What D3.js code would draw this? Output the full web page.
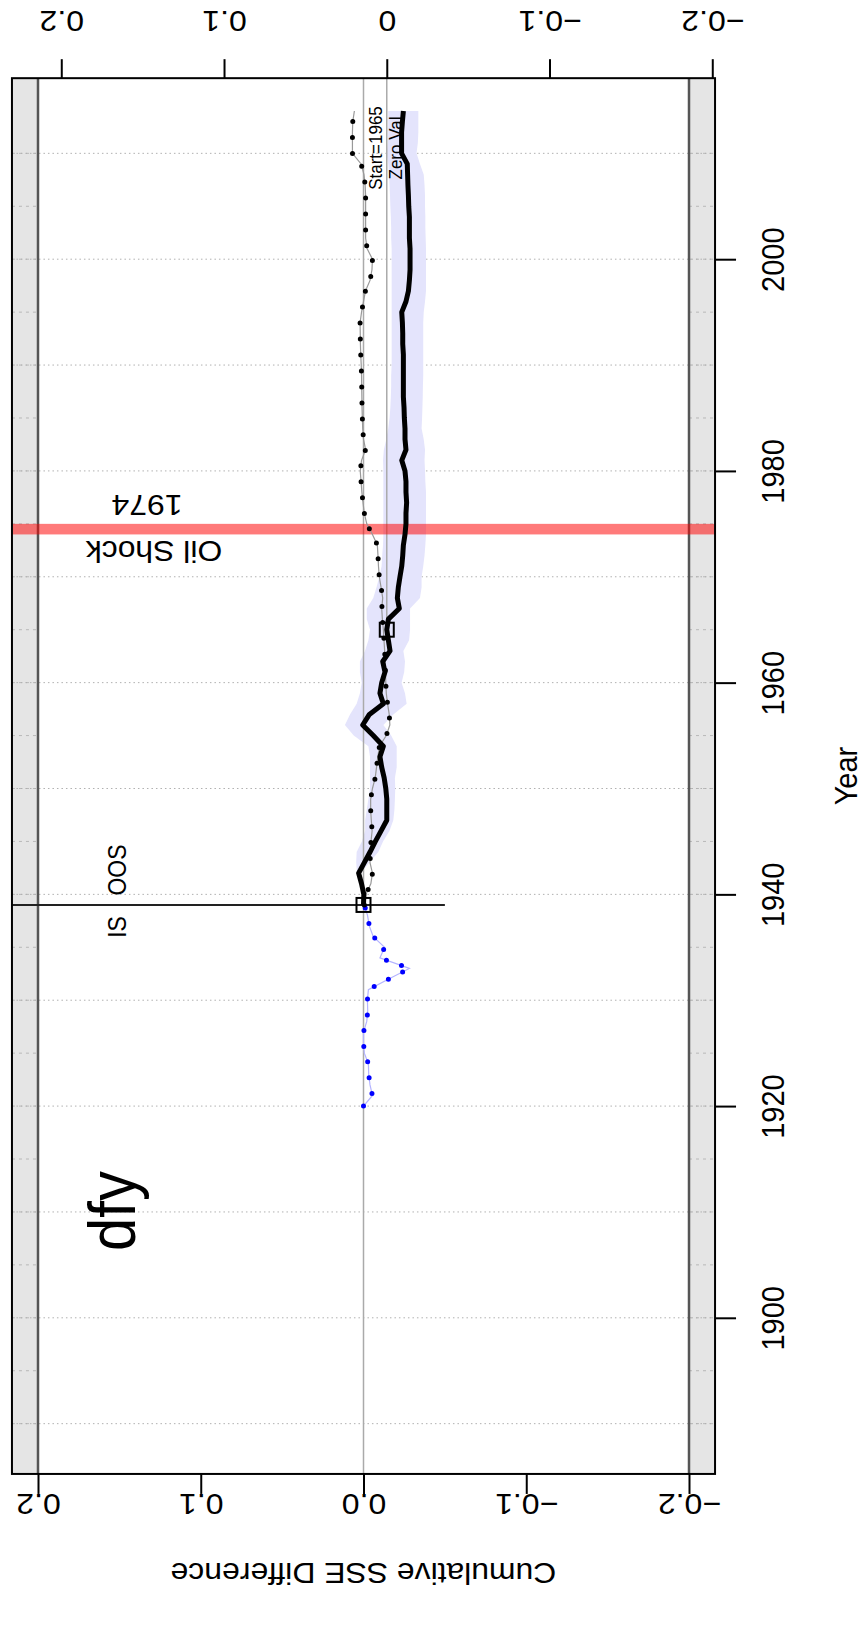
<!DOCTYPE html>
<html>
<head>
<meta charset="utf-8">
<script src="https://cdn.jsdelivr.net/npm/d3@7"></script>
<style>
  body { margin: 0; background: #fff; }
  svg text { font-family: "Liberation Sans", Arial, Helvetica, sans-serif; fill: #000; }
</style>
</head>
<body>
<div id="chart"></div>
<script>
"use strict";

// page / plot frame (the R plot is turned on its side: years run up the page)
var width = 868;
var height = 1634;
var stretch = 1.1;   // glyphs in the reference are a bit wider than tall

// axis ticks and labels
var yearTicks = [1900, 1920, 1940, 1960, 1980, 2000];
var gridYears = [1890, 1900, 1910, 1920, 1930, 1940, 1950, 1960, 1970, 1980, 1990, 2000, 2010];
var stripYears = [1890, 1895, 1900, 1905, 1910, 1915, 1920, 1925, 1930, 1935, 1940, 1945, 1950, 1955, 1960, 1965, 1970, 1975, 1980, 1985, 1990, 1995, 2000, 2005, 2010];
var valueTicks = [0.2, 0.1, 0, -0.1, -0.2];
var bottomLabels = ["0.2", "0.1", "0.0", "\u22120.1", "\u22120.2"];
var topLabels = ["0.2", "0.1", "0", "\u22120.1", "\u22120.2"];

// in-sample stretch (blue dots), 1920-1939
var isStart = 1920;
var isValues = [0.000, -0.0055, -0.0040, -0.0032, -0.0030, -0.0005, 0.000, 0.000, -0.0020, -0.0026,
                -0.0024, -0.0030, -0.0155, -0.0282, -0.0101, -0.0130, -0.0060, -0.0036, -0.0025, -0.0005];

// out-of-sample period, 1939-2014
var oosStart = 1939;
// dotted black series
var oosDotted = [-0.0005, -0.0015, -0.0045, -0.0055, -0.0040, -0.0043, -0.0046, -0.0053, -0.0048, -0.0044,
                 -0.0044, -0.0055, -0.0072, -0.0080, -0.0088, -0.0098, -0.0140, -0.0162, -0.0158, -0.0148,
                 -0.0140, -0.0137, -0.0135, -0.0133, -0.0130, -0.0126, -0.0122, -0.0116, -0.0112, -0.0118,
                 -0.0108, -0.0097, -0.0092, -0.0089, -0.0085, -0.0055, -0.0020, -0.0005, 0.0003, 0.0010,
                 0.0015, 0.0020, 0.0012, -0.0013, 0.0000, 0.0005, 0.0007, 0.0009, 0.0010, 0.0011,
                 0.0012, 0.0014, 0.0017, 0.0019, 0.0020, 0.0021, 0.0012, 0.0000, -0.0012, -0.0040,
                 -0.0052, -0.0055, -0.0022, -0.0013, -0.0013, -0.0013, -0.0013, -0.0013, -0.0010, -0.0003,
                 0.0015, 0.0068, 0.0068, 0.0068, 0.0066, 0.0056];
// thick black cumulative SSE difference
var oosLine = [0.0000, -0.0002, 0.0012, 0.0030, -0.0005, -0.0040, -0.0073, -0.0108, -0.0143, -0.0143,
               -0.0143, -0.0137, -0.0127, -0.0112, -0.0101, -0.0122, -0.0060, 0.0005, -0.0036, -0.0122,
               -0.0101, -0.0112, -0.0132, -0.0118, -0.0163, -0.0153, -0.0143, -0.0153, -0.0220, -0.0208,
               -0.0214, -0.0224, -0.0235, -0.0241, -0.0245, -0.0255, -0.0261, -0.0261, -0.0265, -0.0261,
               -0.0261, -0.0255, -0.0235, -0.0261, -0.0255, -0.0255, -0.0251, -0.0249, -0.0245, -0.0245,
               -0.0245, -0.0245, -0.0245, -0.0241, -0.0241, -0.0239, -0.0235, -0.0261, -0.0276, -0.0282,
               -0.0286, -0.0286, -0.0286, -0.0282, -0.0282, -0.0282, -0.0278, -0.0276, -0.0273, -0.0271,
               -0.0269, -0.0234, -0.0234, -0.0234, -0.0239, -0.0245];

// shaded band round the thick line, 1942-2014
var bandStart = 1942;
var bandHi = [0.0040, 0.0045, 0.0042, 0.0010, -0.0010, -0.0010, -0.0020, -0.0030, -0.0040, -0.0040,
              -0.0040, -0.0040, -0.0030, 0.0060, 0.0114, 0.0083, 0.0042, 0.0022, 0.0011, 0.0022,
              0.0022, -0.0009, -0.0030, -0.0040, -0.0020, -0.0020, -0.0060, -0.0080, -0.0097, -0.0111,
              -0.0115, -0.0120, -0.0122, -0.0122, -0.0122, -0.0122, -0.0122, -0.0122, -0.0122, -0.0120,
              -0.0125, -0.0140, -0.0152, -0.0160, -0.0165, -0.0168, -0.0170, -0.0170, -0.0173, -0.0173,
              -0.0173, -0.0173, -0.0173, -0.0173, -0.0173, -0.0173, -0.0173, -0.0173, -0.0173, -0.0173,
              -0.0170, -0.0170, -0.0168, -0.0165, -0.0163, -0.0160, -0.0157, -0.0152, -0.0142, -0.0150,
              -0.0152, -0.0152, -0.0152];
var bandLo = [0.0015, -0.0035, -0.0091, -0.0120, -0.0160, -0.0183, -0.0190, -0.0193, -0.0195, -0.0193,
              -0.0204, -0.0204, -0.0204, -0.0170, -0.0122, -0.0183, -0.0265, -0.0255, -0.0234, -0.0250,
              -0.0255, -0.0245, -0.0280, -0.0286, -0.0286, -0.0286, -0.0347, -0.0357, -0.0357, -0.0367,
              -0.0375, -0.0380, -0.0384, -0.0384, -0.0384, -0.0384, -0.0384, -0.0380, -0.0378, -0.0375,
              -0.0378, -0.0370, -0.0357, -0.0360, -0.0362, -0.0364, -0.0365, -0.0367, -0.0367, -0.0367,
              -0.0367, -0.0367, -0.0367, -0.0370, -0.0378, -0.0384, -0.0384, -0.0384, -0.0384, -0.0384,
              -0.0382, -0.0380, -0.0380, -0.0378, -0.0378, -0.0375, -0.0370, -0.0347, -0.0326, -0.0334,
              -0.0337, -0.0337, -0.0337];

var zeroYear = 1965;
var shockYear = 1974;
var splitCutoff = -0.05;

// scales: years go up the page, values go leftwards
var yScale = d3.scaleLinear().domain([1900, 2000]).range([1317.8, 259.2]);
var xScale = d3.scaleLinear().domain([0.2, -0.2]).range([38, 689]);
var zeroVal = oosLine[zeroYear - oosStart];
var xTop = d3.scaleLinear().domain([0.2, -0.2])
             .range([xScale(0.2 + zeroVal), xScale(-0.2 + zeroVal)]);

var boxLeft = xScale(0.216), boxRight = xScale(-0.216);
var boxTop = yScale(2017.1), boxBottom = yScale(1885.25);

var svg = d3.select("#chart").append("svg")
            .attr("width", width)
            .attr("height", height);

function place(x, y, angle) {
   return "translate(" + x + "," + y + ") scale(" + stretch + ",1) rotate(" + angle + ")";
}

// grey strips outside +-0.2
svg.append("rect")
   .attr("x", boxLeft).attr("y", boxTop)
   .attr("width", xScale(0.2) - boxLeft).attr("height", boxBottom - boxTop)
   .attr("fill", "#e5e5e5");
svg.append("rect")
   .attr("x", xScale(-0.2)).attr("y", boxTop)
   .attr("width", boxRight - xScale(-0.2)).attr("height", boxBottom - boxTop)
   .attr("fill", "#e5e5e5");

// dashes inside the strips
[[boxLeft, xScale(0.2)], [xScale(-0.2), boxRight]].forEach(function(s) {
   svg.selectAll(null)
      .data(stripYears)
      .enter()
      .append("line")
      .attr("x1", s[0]).attr("x2", s[1])
      .attr("y1", function(d) { return yScale(d); })
      .attr("y2", function(d) { return yScale(d); })
      .attr("stroke", "#b8b8b8")
      .attr("stroke-width", 1)
      .attr("stroke-dasharray", "3,4");
});

// dotted decade grid
svg.selectAll(".grid")
   .data(gridYears)
   .enter()
   .append("line")
   .attr("class", "grid")
   .attr("x1", boxLeft).attr("x2", boxRight)
   .attr("y1", function(d) { return yScale(d); })
   .attr("y2", function(d) { return yScale(d); })
   .attr("stroke", "#b0b0b0")
   .attr("stroke-width", 1)
   .attr("stroke-dasharray", "1.5,3");

// +-0.2 boundaries
[0.2, -0.2].forEach(function(v) {
   svg.append("line")
      .attr("x1", xScale(v)).attr("x2", xScale(v))
      .attr("y1", boxTop).attr("y2", boxBottom)
      .attr("stroke", "#555").attr("stroke-width", 2.5);
});

// confidence band
var bandArea = d3.area()
   .y(function(d, i) { return yScale(bandStart + i); })
   .x0(function(d, i) { return xScale(bandHi[i]); })
   .x1(function(d, i) { return xScale(bandLo[i]); });
svg.append("path")
   .datum(bandHi)
   .attr("d", bandArea)
   .attr("fill", "#e4e4fc");

// zero line and "zero value" line from 1965 on
svg.append("line")
   .attr("x1", xScale(0)).attr("x2", xScale(0))
   .attr("y1", boxTop).attr("y2", boxBottom)
   .attr("stroke", "#aaa").attr("stroke-width", 1.5);
svg.append("line")
   .attr("x1", xScale(zeroVal)).attr("x2", xScale(zeroVal))
   .attr("y1", boxTop).attr("y2", yScale(zeroYear))
   .attr("stroke", "#aaa").attr("stroke-width", 1.5);

// oil shock bar
svg.append("rect")
   .attr("x", boxLeft).attr("width", boxRight - boxLeft)
   .attr("y", yScale(shockYear + 1)).attr("height", yScale(shockYear) - yScale(shockYear + 1))
   .attr("fill", "#ff0000").attr("fill-opacity", 0.52);

// IS / OOS split
svg.append("line")
   .attr("x1", boxLeft).attr("x2", xScale(splitCutoff))
   .attr("y1", yScale(oosStart)).attr("y2", yScale(oosStart))
   .attr("stroke", "#222").attr("stroke-width", 2);

function seriesLine(start) {
   return d3.line()
      .x(function(d) { return xScale(d); })
      .y(function(d, i) { return yScale(start + i); });
}

// in-sample dotted blue
svg.append("path").datum(isValues)
   .attr("d", seriesLine(isStart))
   .attr("fill", "none").attr("stroke", "#b4b4ff").attr("stroke-width", 1.2);
svg.append("path").datum(isValues)
   .attr("d", seriesLine(isStart))
   .attr("fill", "none").attr("stroke", "#0000ff").attr("stroke-width", 5)
   .attr("stroke-linecap", "round").attr("stroke-dasharray", "0,16");

// out-of-sample dotted black
svg.append("path").datum(oosDotted)
   .attr("d", seriesLine(oosStart))
   .attr("fill", "none").attr("stroke", "#999").attr("stroke-width", 1.2);
svg.append("path").datum(oosDotted)
   .attr("d", seriesLine(oosStart))
   .attr("fill", "none").attr("stroke", "#000").attr("stroke-width", 5)
   .attr("stroke-linecap", "round").attr("stroke-dasharray", "0,16");

// thick cumulative line
svg.append("path").datum(oosLine)
   .attr("d", seriesLine(oosStart))
   .attr("fill", "none").attr("stroke", "#000").attr("stroke-width", 5)
   .attr("stroke-linejoin", "round");

// squares at start of OOS and at the zero year
svg.selectAll(".mark")
   .data([[oosStart, 0], [zeroYear, zeroVal]])
   .enter()
   .append("rect")
   .attr("class", "mark")
   .attr("x", function(d) { return xScale(d[1]) - 7; })
   .attr("y", function(d) { return yScale(d[0]) - 7; })
   .attr("width", 14).attr("height", 14)
   .attr("fill", "none").attr("stroke", "#000").attr("stroke-width", 2);

// plot box
svg.append("rect")
   .attr("x", boxLeft).attr("y", boxTop)
   .attr("width", boxRight - boxLeft).attr("height", boxBottom - boxTop)
   .attr("fill", "none").attr("stroke", "#000").attr("stroke-width", 2);

// year axis on the right
var yearAxis = d3.axisRight(yScale).tickValues(yearTicks).tickSize(21).tickFormat(d3.format("d"));
var gy = svg.append("g")
   .attr("transform", "translate(" + boxRight + ",0)")
   .call(yearAxis);
gy.select(".domain").remove();
gy.selectAll("line").attr("stroke", "#000").attr("stroke-width", 2);
gy.selectAll("text")
   .attr("x", null).attr("dy", null)
   .attr("transform", place(784 - boxRight, 0, -90))
   .attr("text-anchor", "middle")
   .style("font-size", "29px");

// value axis at the bottom
var bottomAxis = d3.axisBottom(xScale).tickValues(valueTicks).tickSize(20)
   .tickFormat(function(d, i) { return bottomLabels[i]; });
var gb = svg.append("g")
   .attr("transform", "translate(0," + boxBottom + ")")
   .call(bottomAxis);
gb.select(".domain").remove();
gb.selectAll("line").attr("stroke", "#000").attr("stroke-width", 2);
gb.selectAll("text")
   .attr("y", null).attr("dy", null)
   .attr("transform", place(0, 1494 - boxBottom, 180))
   .attr("text-anchor", "middle")
   .style("font-size", "29px");

// shifted value axis at the top
var topAxis = d3.axisTop(xTop).tickValues(valueTicks).tickSize(19)
   .tickFormat(function(d, i) { return topLabels[i]; });
var gt = svg.append("g")
   .attr("transform", "translate(0," + boxTop + ")")
   .call(topAxis);
gt.select(".domain").remove();
gt.selectAll("line").attr("stroke", "#000").attr("stroke-width", 2);
gt.selectAll("text")
   .attr("y", null).attr("dy", null)
   .attr("transform", place(0, 11 - boxTop, 180))
   .attr("text-anchor", "middle")
   .style("font-size", "29px");

// axis titles and annotations
function label(txt, x, y, angle, size) {
   svg.append("text")
      .attr("transform", place(x, y, angle))
      .attr("text-anchor", "middle")
      .style("font-size", size + "px")
      .text(txt);
}
label("Year", 857, (boxTop + boxBottom) / 2, -90, 29);
label("Cumulative SSE Difference", xScale(0), 1563, 180, 29);
label("dfy", 135, 1211, -90, 60);
label("1974", 147, 495, 180, 29);
label("Oil Shock", 154, 541, 180, 29);
label("OOS", 126, 870, -90, 23);
label("IS", 126, 927, -90, 23);
label("Start=1965", 381.5, 148, -90, 17);
label("Zero Val", 401.5, 148, -90, 17);
</script>
</body>
</html>
